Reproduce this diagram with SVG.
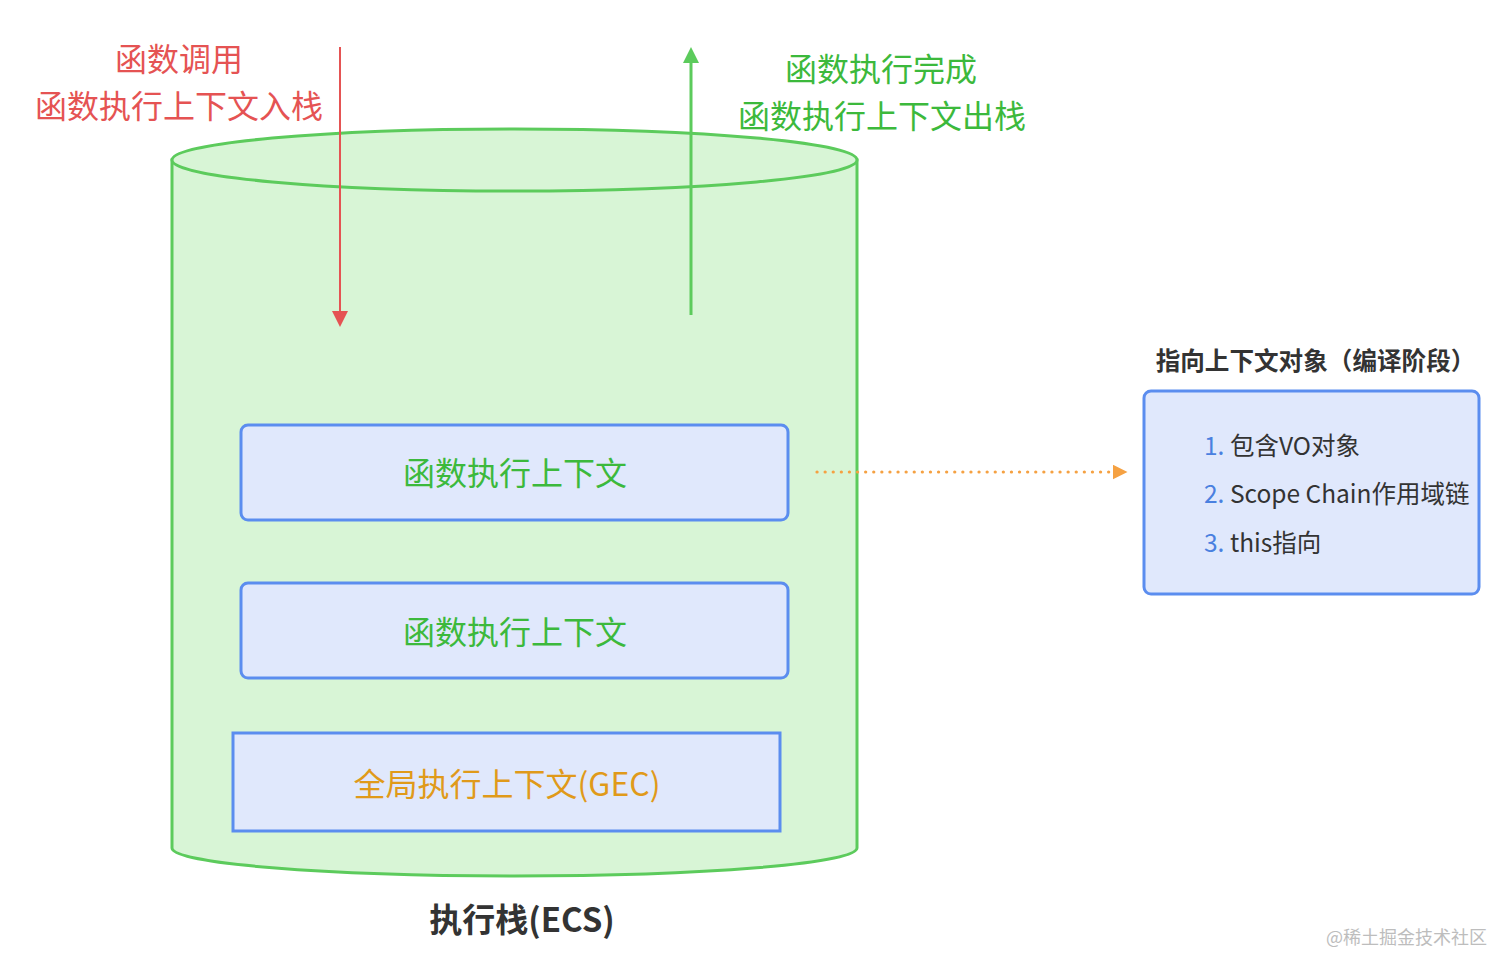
<svg xmlns="http://www.w3.org/2000/svg" width="1512" height="974" viewBox="0 0 1512 974">
<defs>
<style>
text{font-family:"Noto Sans CJK SC","Noto Sans",sans-serif;}
.box{fill:#e0e8fc;stroke:#5b8def;stroke-width:3;}
.g{fill:#3cb93c;}
.r{fill:#e55353;}
.o{fill:#e09a1a;}
.dark{fill:#333333;}
.num{fill:#4a80e0;}
</style>
<marker id="ahRed" viewBox="0 0 10 10" refX="5" refY="5" markerWidth="16" markerHeight="16" markerUnits="userSpaceOnUse" orient="auto"><path d="M0,0L10,5L0,10z" fill="#e55353"/></marker>
<marker id="ahGreen" viewBox="0 0 10 10" refX="5" refY="5" markerWidth="16" markerHeight="16" markerUnits="userSpaceOnUse" orient="auto"><path d="M0,0L10,5L0,10z" fill="#5ccb5c"/></marker>
<marker id="ahOrange" viewBox="0 0 10 10" refX="5" refY="5" markerWidth="15" markerHeight="15" markerUnits="userSpaceOnUse" orient="auto"><path d="M0,0L10,5L0,10z" fill="#f5a142"/></marker>
</defs>
<rect width="1512" height="974" fill="#ffffff"/>
<g id="stack">
<path d="M172,160 L172,848 A342.5,28 0 0 0 857,848 L857,160 Z" fill="#d8f5d6" stroke="#5ccb5c" stroke-width="3"/>
<ellipse cx="514.5" cy="160" rx="342.5" ry="31" fill="#d8f5d6" stroke="#5ccb5c" stroke-width="3"/>
<text x="522" y="932" font-size="33" font-weight="bold" text-anchor="middle" class="dark">执行栈(ECS)</text>
</g>
<g id="fec1">
<rect x="241" y="425" width="547" height="95" rx="7" class="box"/>
<text x="515" y="485" font-size="32" text-anchor="middle" class="g">函数执行上下文</text>
</g>
<g id="fec2">
<rect x="241" y="583" width="547" height="95" rx="7" class="box"/>
<text x="515" y="644" font-size="32" text-anchor="middle" class="g">函数执行上下文</text>
</g>
<g id="gec">
<rect x="233" y="733" width="547" height="98" class="box"/>
<text x="507" y="796" font-size="32" text-anchor="middle" class="o">全局执行上下文(GEC)</text>
</g>
<g id="ctx">
<text x="1315.5" y="370" font-size="24.6" font-weight="bold" text-anchor="middle" class="dark">指向上下文对象（编译阶段）</text>
<rect x="1144" y="391" width="335" height="203" rx="7" class="box"/>
<text x="1204" y="455" font-size="24.5"><tspan class="num">1.</tspan><tspan class="dark"> 包含VO对象</tspan></text>
<text x="1204" y="503" font-size="24.5"><tspan class="num">2.</tspan><tspan class="dark"> Scope Chain作用域链</tspan></text>
<text x="1204" y="552" font-size="24.5"><tspan class="num">3.</tspan><tspan class="dark"> this指向</tspan></text>
</g>
<g id="labels">
<text x="179" y="71" font-size="32" text-anchor="middle" class="r">函数调用</text>
<text x="179" y="118" font-size="32" text-anchor="middle" class="r">函数执行上下文入栈</text>
<text x="881" y="81" font-size="32" text-anchor="middle" class="g">函数执行完成</text>
<text x="882" y="128" font-size="32" text-anchor="middle" class="g">函数执行上下文出栈</text>
</g>
<g id="connectors">
<line x1="340" y1="47" x2="340" y2="319" stroke="#e55353" stroke-width="2" marker-end="url(#ahRed)"/>
<line x1="691" y1="315" x2="691" y2="55" stroke="#5ccb5c" stroke-width="3" marker-end="url(#ahGreen)"/>
<line x1="817" y1="472" x2="1120" y2="472" stroke="#f5a142" stroke-width="3.2" stroke-dasharray="0.1 8" stroke-linecap="round" marker-end="url(#ahOrange)"/>
</g>
<text x="1326" y="944" font-size="18" fill="#bdbdbd">@稀土掘金技术社区</text>
</svg>
